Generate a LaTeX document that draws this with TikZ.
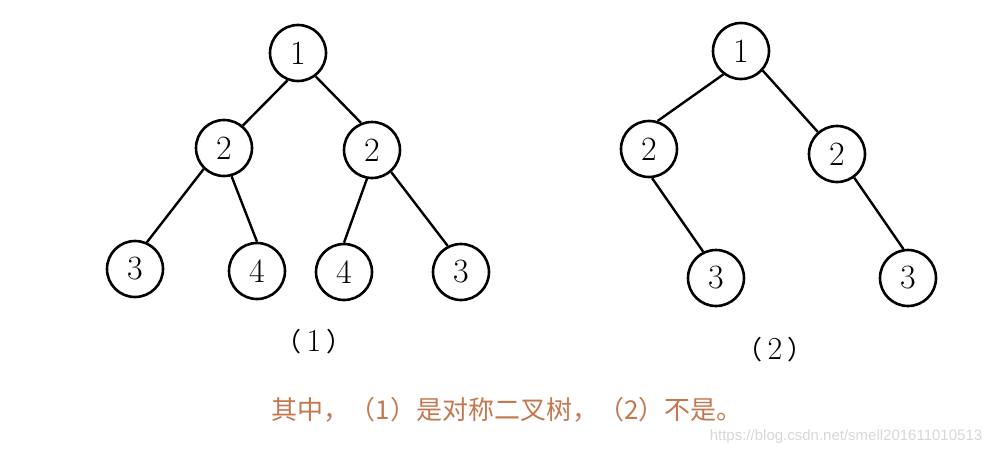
\documentclass[tikz,border=0pt]{standalone}
\usepackage{fontspec}
\newfontfamily\cjk{Noto Sans CJK SC}
\newfontfamily\wmfont{Liberation Sans}
\definecolor{captc}{RGB}{196,120,80}
\definecolor{wmc}{RGB}{215,215,215}
\newcommand{\lpar}{{\cjk\fontsize{26}{30}\selectfont （}\hspace{5pt}}
\newcommand{\rpar}{\hspace{5pt}{\cjk\fontsize{26}{30}\selectfont ）}}
\begin{document}
\begin{tikzpicture}[x=1pt,y=-1pt,
  nd/.style={circle,draw,line width=2.6pt,minimum size=56pt,inner sep=0pt,font=\fontsize{34}{36}\selectfont},
  edge/.style={line width=2.4pt},
  lbl/.style={font=\fontsize{32}{36}\selectfont},
  capt/.style={font=\cjk\fontsize{26}{30}\selectfont,text=captc},
  wm/.style={font=\wmfont\fontsize{15}{18}\selectfont,text=wmc}]
\useasboundingbox (0,0) rectangle (1001,455);
% tree 1
\node[nd] (a1) at (298,53) {1};
\node[nd] (b1) at (224,148) {2};
\node[nd] (c1) at (372,150) {2};
\node[nd] (d1) at (135,269) {3};
\node[nd] (e1) at (257,271) {4};
\node[nd] (f1) at (344,272) {4};
\node[nd] (g1) at (461,272) {3};
\draw[edge] (a1.249) -- (b1.50);
\draw[edge] (a1.307) -- (c1.112);
\draw[edge] (b1.226) -- (d1.66);
\draw[edge] (b1.285) -- (e1.90);
\draw[edge] (c1.260) -- (f1.90);
\draw[edge] (c1.311) -- (g1.117);
\node[lbl] (l1) at (314,342) {\lpar 1\rpar};
% tree 2
\node[nd] (a2) at (741,51) {1};
\node[nd] (b2) at (649,149) {2};
\node[nd] (c2) at (837,154) {2};
\node[nd] (d2) at (716,278) {3};
\node[nd] (e2) at (908,278) {3};
\draw[edge] (a2.233) -- (b2.73);
\draw[edge] (a2.318) -- (c2.131);
\draw[edge] (b2.276) -- (d2.116);
\draw[edge] (c2.306) -- (e2.99);
\node[lbl] (l2) at (775,350) {\lpar 2\rpar};
% caption
\node[capt] (cap) at (507,410) {其中，（1）是对称二叉树，（2）不是。};
\node[wm] (wmk) at (846,437) {https://blog.csdn.net/smell201611010513};
\end{tikzpicture}
\end{document}
